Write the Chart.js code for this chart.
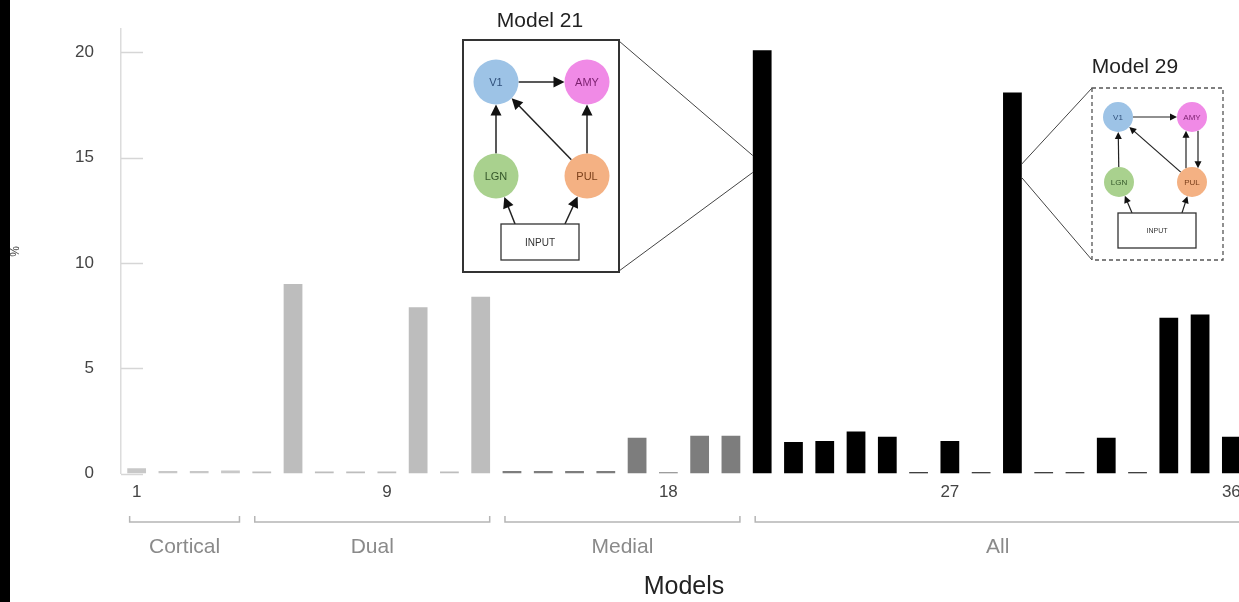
<!DOCTYPE html>
<html>
<head>
<meta charset="utf-8">
<script src="https://cdn.jsdelivr.net/npm/chart.js@4.4.1/dist/chart.umd.min.js"></script>
<style>
  html, body { margin: 0; padding: 0; background: #fff; overflow: hidden; width: 1239px; height: 602px; }
  #wrap { position: absolute; left: 0; top: 0; width: 1257px; height: 602px; }
  #edge { position: absolute; left: 0; top: 0; width: 10px; height: 602px; background: #000; z-index: 2; }
</style>
</head>
<body>
<div id="edge"></div>
<div id="wrap"><canvas id="chart"></canvas></div>
<script>
// 模型编号 1..36
const models = Array.from({ length: 36 }, (_, i) => String(i + 1));
// 每个模型的百分比
const percent = [
  0.25, 0.12, 0.12, 0.15, 0.1, 9.0, 0.1, 0.1, 0.1, 7.9, 0.1, 8.4,
  0.12, 0.12, 0.12, 0.12, 1.7, 0.06, 1.8, 1.8,
  20.1, 1.5, 1.55, 2.0, 1.75, 0.06, 1.55, 0.06, 18.1, 0.06, 0.06, 1.7,
  0.06, 7.4, 7.55, 1.75
];
// 分组
const groupNames = ['Cortical', 'Dual', 'Medial', 'All'];
const groupFirst = [1, 5, 13, 21];
const groupLast = [4, 12, 20, 36];
const groupColors = ['#c8c8c8', '#bdbdbd', '#7d7d7d', '#000000'];
const shownTicks = ['1', '9', '18', '27', '36'];
const yTicks = [0, 5, 10, 15, 20];

const barColors = models.map((m, i) => {
  const g = groupFirst.findIndex((f, k) => i + 1 >= f && i + 1 <= groupLast[k]);
  return groupColors[g];
});

function arrow(ctx, x1, y1, x2, y2, head) {
  const a = Math.atan2(y2 - y1, x2 - x1);
  ctx.beginPath();
  ctx.moveTo(x1, y1);
  ctx.lineTo(x2 - Math.cos(a) * head * 0.8, y2 - Math.sin(a) * head * 0.8);
  ctx.stroke();
  ctx.beginPath();
  ctx.moveTo(x2, y2);
  ctx.lineTo(x2 - head * Math.cos(a) + head * 0.5 * Math.sin(a), y2 - head * Math.sin(a) - head * 0.5 * Math.cos(a));
  ctx.lineTo(x2 - head * Math.cos(a) - head * 0.5 * Math.sin(a), y2 - head * Math.sin(a) + head * 0.5 * Math.cos(a));
  ctx.closePath();
  ctx.fill();
}

// 节点之间的箭头(圆边到圆边, off 为横向偏移)
function link(ctx, p, q, r, off, head) {
  const dx = q.x - p.x, dy = q.y - p.y;
  const len = Math.hypot(dx, dy);
  const ux = dx / len, uy = dy / len;
  const nx = -uy * off, ny = ux * off;
  const t = Math.sqrt(r * r - off * off);
  arrow(ctx, p.x + nx + ux * t, p.y + ny + uy * t, q.x + nx - ux * t, q.y + ny - uy * t, head);
}

function drawInset(ctx, o) {
  ctx.save();
  ctx.fillStyle = '#fff';
  ctx.fillRect(o.x, o.y, o.w, o.h);
  ctx.strokeStyle = o.dashed ? '#555' : '#333';
  ctx.lineWidth = o.dashed ? 1.3 : 2;
  ctx.setLineDash(o.dashed ? [4, 3] : []);
  ctx.strokeRect(o.x, o.y, o.w, o.h);
  ctx.setLineDash([]);

  ctx.fillStyle = '#222';
  ctx.font = '21px "Liberation Sans", Arial, sans-serif';
  ctx.textAlign = 'center';
  ctx.textBaseline = 'middle';
  ctx.fillText(o.title, o.tx, o.ty);

  const n = o.nodes;
  const nodeStyle = {
    V1: ['#9dc3e6', '#2f4f7a'], AMY: ['#f08ae6', '#7a1f6e'],
    LGN: ['#a9d18e', '#35572a'], PUL: ['#f4b183', '#7a3f1a']
  };
  ctx.strokeStyle = '#222';
  ctx.fillStyle = '#111';
  ctx.lineWidth = o.lw;
  o.links.forEach(l => link(ctx, n[l[0]], n[l[1]], o.r, l[2] || 0, o.head));
  // INPUT -> LGN / PUL
  const ib = o.input;
  [[ib.x + ib.w * 0.18, 'LGN'], [ib.x + ib.w * 0.82, 'PUL']].forEach(([sx, k]) => {
    const c = n[k];
    const dx = c.x - sx, dy = c.y - ib.y;
    const len = Math.hypot(dx, dy);
    arrow(ctx, sx, ib.y, c.x - dx / len * o.r, c.y - dy / len * o.r, o.head);
  });

  Object.keys(n).forEach(k => {
    ctx.beginPath();
    ctx.arc(n[k].x, n[k].y, o.r, 0, Math.PI * 2);
    ctx.fillStyle = nodeStyle[k][0];
    ctx.fill();
    ctx.fillStyle = nodeStyle[k][1];
    ctx.font = o.fs + 'px "Liberation Sans", Arial, sans-serif';
    ctx.fillText(k, n[k].x, n[k].y + 1);
  });

  ctx.strokeStyle = '#333';
  ctx.lineWidth = 1.3;
  ctx.fillStyle = '#fff';
  ctx.fillRect(ib.x, ib.y, ib.w, ib.h);
  ctx.strokeRect(ib.x, ib.y, ib.w, ib.h);
  ctx.fillStyle = '#333';
  ctx.font = (o.fs - 1) + 'px "Liberation Sans", Arial, sans-serif';
  ctx.fillText('INPUT', ib.x + ib.w / 2, ib.y + ib.h / 2 + 1);
  ctx.restore();
}

const decorations = {
  id: 'decorations',
  afterDraw(chart) {
    const { ctx, chartArea, scales: { x, y } } = chart;
    const bars = chart.getDatasetMeta(0).data;
    ctx.save();

    // 内侧短刻度线
    ctx.strokeStyle = '#d6d6d6';
    ctx.lineWidth = 1.5;
    yTicks.forEach(v => {
      const py = Math.round(y.getPixelForValue(v)) + 0.5;
      ctx.beginPath();
      ctx.moveTo(chartArea.left, py);
      ctx.lineTo(chartArea.left + 22, py);
      ctx.stroke();
    });

    // 分组括号和名称
    groupNames.forEach((name, g) => {
      const l = x.getPixelForValue(groupFirst[g] - 1) - 7;
      const r = x.getPixelForValue(groupLast[g] - 1) + 9;
      ctx.strokeStyle = '#b5b5b5';
      ctx.lineWidth = 1.5;
      ctx.beginPath();
      ctx.moveTo(l, 516);
      ctx.lineTo(l, 522);
      ctx.lineTo(r, 522);
      ctx.lineTo(r, 516);
      ctx.stroke();
      ctx.fillStyle = '#8a8a8a';
      ctx.font = '21px "Liberation Sans", Arial, sans-serif';
      ctx.textAlign = 'center';
      ctx.textBaseline = 'middle';
      ctx.fillText(name, (l + r) / 2, 547);
    });

    // 放大连线
    const b21 = bars[20], b29 = bars[28];
    ctx.strokeStyle = '#444';
    ctx.lineWidth = 1;
    ctx.beginPath();
    ctx.moveTo(619, 41);
    ctx.lineTo(b21.x - b21.width / 2, y.getPixelForValue(15.1));
    ctx.moveTo(619, 271);
    ctx.lineTo(b21.x - b21.width / 2, y.getPixelForValue(14.3));
    ctx.moveTo(1092, 88);
    ctx.lineTo(b29.x + b29.width / 2, y.getPixelForValue(14.7));
    ctx.moveTo(1092, 260);
    ctx.lineTo(b29.x + b29.width / 2, y.getPixelForValue(14.05));
    ctx.stroke();
    ctx.restore();

    drawInset(ctx, {
      x: 463, y: 40, w: 156, h: 232, title: 'Model 21', tx: 540, ty: 21,
      r: 22.5, fs: 11, head: 11, lw: 1.5, dashed: false,
      nodes: { V1: { x: 496, y: 82 }, AMY: { x: 587, y: 82 }, LGN: { x: 496, y: 176 }, PUL: { x: 587, y: 176 } },
      links: [['V1', 'AMY'], ['LGN', 'V1'], ['PUL', 'AMY'], ['PUL', 'V1']],
      input: { x: 501, y: 224, w: 78, h: 36 }
    });
    drawInset(ctx, {
      x: 1092, y: 88, w: 131, h: 172, title: 'Model 29', tx: 1135, ty: 67,
      r: 15, fs: 8, head: 7, lw: 1.2, dashed: true,
      nodes: { V1: { x: 1118, y: 117 }, AMY: { x: 1192, y: 117 }, LGN: { x: 1119, y: 182 }, PUL: { x: 1192, y: 182 } },
      links: [['V1', 'AMY'], ['LGN', 'V1'], ['PUL', 'AMY', -6], ['AMY', 'PUL', -6], ['PUL', 'V1']],
      input: { x: 1118, y: 213, w: 78, h: 35 }
    });
  }
};

new Chart(document.getElementById('chart').getContext('2d'), {
  type: 'bar',
  data: {
    labels: models,
    datasets: [{
      data: percent,
      backgroundColor: barColors,
      borderWidth: 0,
      barPercentage: 0.6,
      categoryPercentage: 1.0
    }]
  },
  options: {
    responsive: true,
    maintainAspectRatio: false,
    animation: false,
    layout: { padding: { top: 19, right: 10, bottom: 0, left: 0 } },
    plugins: { legend: { display: false }, tooltip: { enabled: false } },
    scales: {
      x: {
        grid: { display: false },
        border: { display: false },
        ticks: {
          autoSkip: false,
          maxRotation: 0,
          padding: 1,
          color: '#444',
          font: { family: '"Liberation Sans", Arial, sans-serif', size: 17 },
          callback: (v, i) => shownTicks.includes(models[i]) ? models[i] : ''
        },
        title: {
          display: true,
          text: 'Models',
          color: '#222',
          font: { family: '"Liberation Sans", Arial, sans-serif', size: 25 },
          padding: { top: 68, bottom: 0 }
        }
      },
      y: {
        min: 0,
        max: 21.1,
        afterFit: s => { s.width = 121; },
        afterBuildTicks: s => { s.ticks = yTicks.map(v => ({ value: v })); },
        grid: { display: false },
        border: { display: true, color: '#dcdcdc', width: 1.5 },
        ticks: {
          padding: 19,
          color: '#444',
          font: { family: '"Liberation Sans", Arial, sans-serif', size: 17 }
        },
        title: {
          display: true,
          text: '%',
          color: '#444',
          font: { family: '"Liberation Sans", Arial, sans-serif', size: 12 },
          padding: { top: 8, bottom: 0 }
        }
      }
    }
  },
  plugins: [decorations]
});
</script>
</body>
</html>
